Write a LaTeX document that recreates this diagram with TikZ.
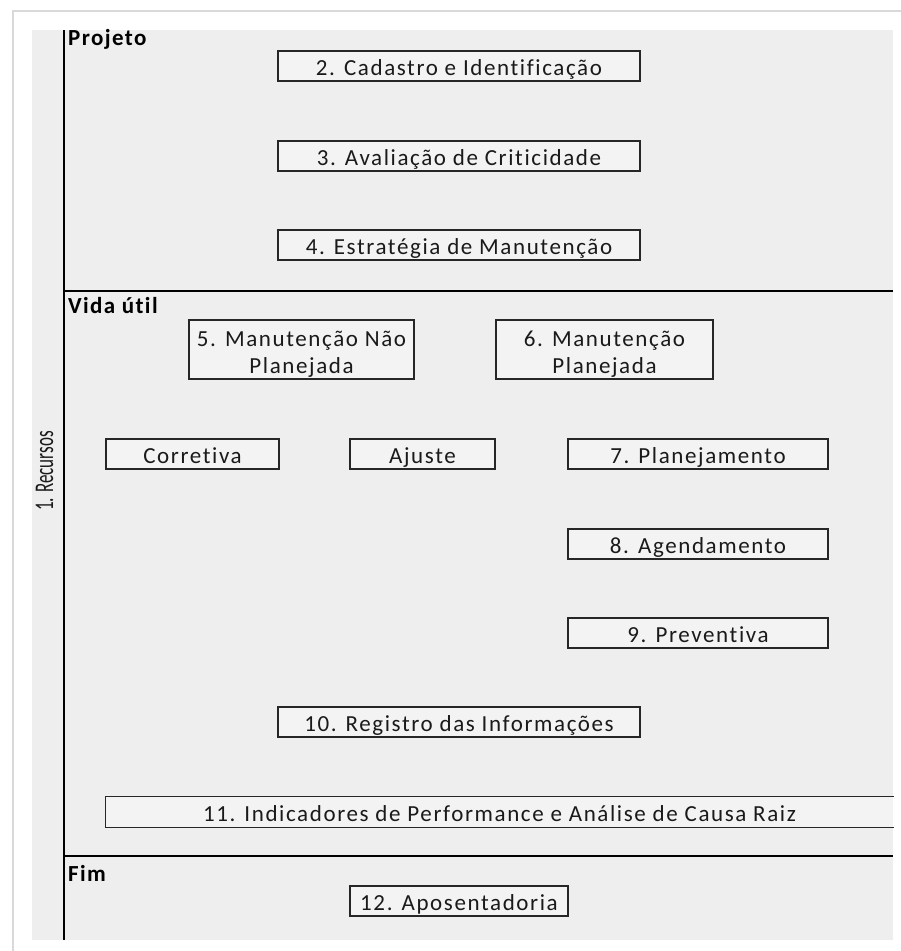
\documentclass[tikz,border=0pt]{standalone}
\usepackage{fontspec}
\setmainfont[Ligatures=NoCommon]{Carlito}
\newfontfamily\largo[LetterSpace=7, Ligatures=NoCommon]{Carlito}
\newfontfamily\titulo[LetterSpace=6, Ligatures=NoCommon]{Carlito}
\definecolor{panel}{HTML}{EEEEEE}
\definecolor{boxfill}{HTML}{F3F3F3}
\definecolor{frame}{HTML}{D9D9D9}
\definecolor{tinta}{HTML}{1A1A1A}
\tikzset{
  etapa/.style={draw=black!85, line width=1.3pt, fill=boxfill, inner sep=0pt,
    minimum height=30pt, align=center, text=tinta, text height=21pt, text depth=3pt,
    font=\fontsize{23}{27}\selectfont\largo},
  duas/.style={etapa, minimum height=59pt, text height=50pt, text depth=3pt},
  fase/.style={anchor=base west, inner sep=0pt, font=\fontsize{23}{26}\selectfont\titulo\bfseries}
}
\begin{document}
\begin{tikzpicture}[x=1pt,y=-1pt]
\useasboundingbox (0,0) rectangle (901,951);
\fill[white] (0,0) rectangle (901,951);
\draw[frame, line width=2pt] (13,951) -- (13,11) -- (901,11);
\fill[panel] (32,30) rectangle (893,940);

% eixo e fases
\draw[line width=1.6pt] (64,30) -- (64,940);
\draw[line width=1.2pt] (64,291) -- (893,291);
\draw[line width=1.2pt] (64,856) -- (893,856);
\node[rotate=90, anchor=base, inner sep=0pt, text=tinta, font=\fontsize{27}{28}\selectfont]
  (recursos) at (53,471) {\scalebox{0.63}[1]{1. Recursos}};
\node[fase] (projeto) at (68,45) {Projeto};
\node[fase] (vida) at (68,313) {Vida útil};
\node[fase] (fim) at (68,881) {Fim};

% Projeto
\node[etapa, minimum width=362pt] (cadastro) at (459,66) {2. Cadastro e Identificação};
\node[etapa, minimum width=362pt] (criticidade) at (459,156) {3. Avaliação de Criticidade};
\node[etapa, minimum width=362pt] (estrategia) at (459,245) {4. Estratégia de Manutenção};

% Vida util
\node[duas, minimum width=225pt] (naoplan) at (301.5,349.5) {5. Manutenção Não\\Planejada};
\node[duas, minimum width=217pt] (plan) at (604.5,349.5) {6. Manutenção\\Planejada};
\node[etapa, minimum width=173pt] (corretiva) at (192.5,454) {Corretiva};
\node[etapa, minimum width=145pt] (ajuste) at (422.5,454) {Ajuste};
\node[etapa, minimum width=260pt] (planejamento) at (698,454) {7. Planejamento};
\node[etapa, minimum width=260pt] (agendamento) at (698,544) {8. Agendamento};
\node[etapa, minimum width=260pt] (preventiva) at (698,633) {9. Preventiva};
\node[etapa, minimum width=362pt] (registro) at (459,722) {10. Registro das Informações};
\node[etapa, draw=none, minimum width=787pt] (indicadores) at (499.5,812) {11. Indicadores de Performance e Análise de Causa Raiz};
\draw[black!85, line width=1.3pt] (indicadores.north east) -- (indicadores.north west)
  -- (indicadores.south west) -- (indicadores.south east);

% Fim
\node[etapa, minimum width=218pt] (aposentadoria) at (459,901) {12. Aposentadoria};
\end{tikzpicture}
\end{document}
